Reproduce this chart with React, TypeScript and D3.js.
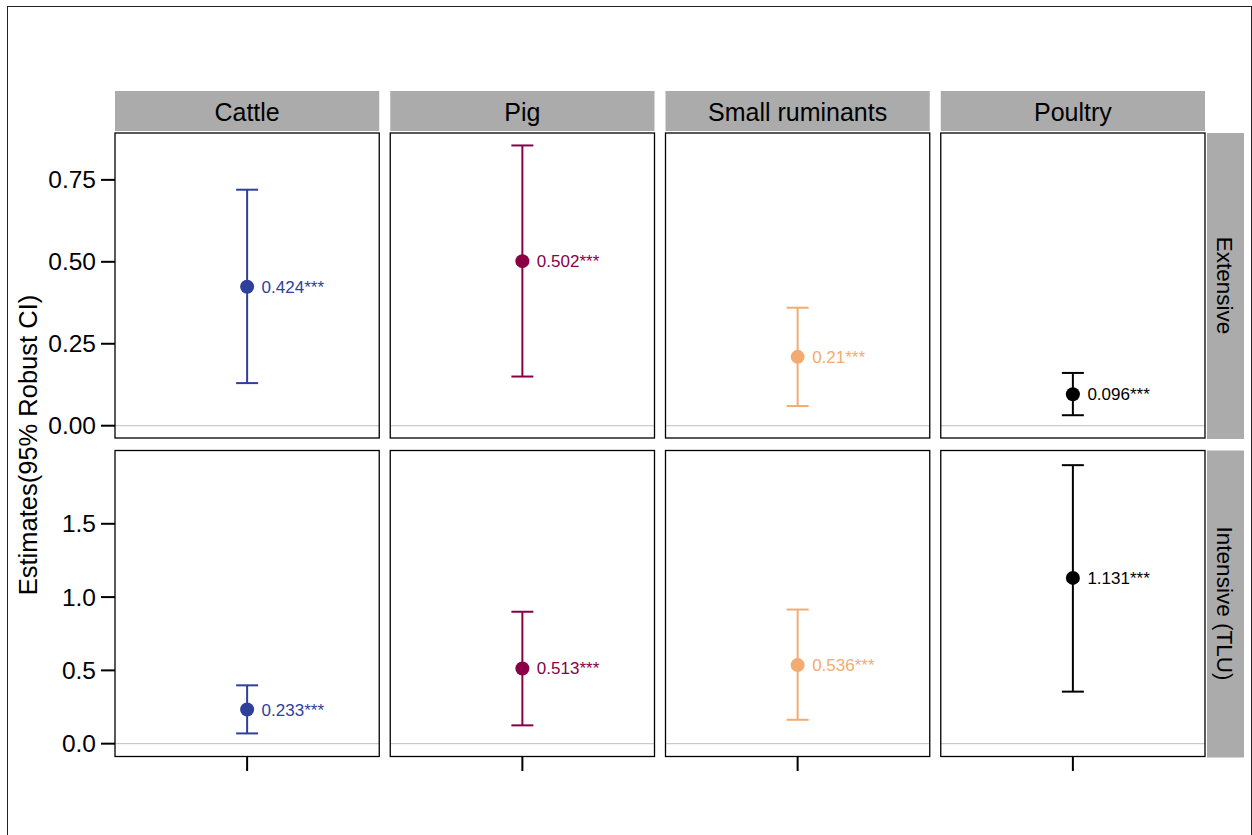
import React from 'react';
import * as d3 from 'd3';

// chart values
const species = ['Cattle', 'Pig', 'Small ruminants', 'Poultry'];
const systems = ['Extensive', 'Intensive (TLU)'];
const colors = ['#2E3F9C', '#8A0045', '#F2AC72', '#000000'];

const estExtensive = [0.424, 0.502, 0.21, 0.096];
const lowExtensive = [0.13, 0.15, 0.06, 0.032];
const highExtensive = [0.72, 0.855, 0.36, 0.161];
const labelsExtensive = ['0.424***', '0.502***', '0.21***', '0.096***'];

const estIntensive = [0.233, 0.513, 0.536, 1.131];
const lowIntensive = [0.07, 0.125, 0.163, 0.355];
const highIntensive = [0.398, 0.9, 0.915, 1.9];
const labelsIntensive = ['0.233***', '0.513***', '0.536***', '1.131***'];

const ticksExtensive = [0, 0.25, 0.5, 0.75];
const ticksIntensive = [0, 0.5, 1, 1.5];

const W = 1252;
const H = 835;
const font = '"Liberation Sans", Arial, sans-serif';

export default function App() {
	const colX = d3.scaleBand<string>()
		.domain(species)
		.range([115, 1205])
		.paddingInner(0.04);

	const rows = [
		{
			name: systems[0], top: 133, bottom: 438,
			y: d3.scaleLinear().domain([-0.0375, 0.893]).range([438, 133]),
			est: estExtensive, low: lowExtensive, high: highExtensive, labels: labelsExtensive,
			ticks: ticksExtensive, fmt: d3.format('.2f')
		},
		{
			name: systems[1], top: 450.5, bottom: 756.5,
			y: d3.scaleLinear().domain([-0.0875, 2.0]).range([756.5, 450.5]),
			est: estIntensive, low: lowIntensive, high: highIntensive, labels: labelsIntensive,
			ticks: ticksIntensive, fmt: d3.format('.1f')
		}
	];

	const bw = colX.bandwidth();

	return (
		<div style={{ position: 'fixed', left: 0, top: 0 }}>
			<svg width={W} height={H} style={{ display: 'block', fontFamily: font }}>
				<rect x={0} y={0} width={W} height={H} fill="#fff" />
				<rect x={7.5} y={6.5} width={1244} height={830} fill="none" stroke="#222" strokeWidth={1} />

				{/* column strips */}
				{species.map((s) => (
					<g key={s}>
						<rect x={colX(s)} y={91} width={bw} height={40} fill="#ABABAB" />
						<text x={colX(s)! + bw / 2} y={121} textAnchor="middle" fontSize={25} fill="#000">{s}</text>
					</g>
				))}

				{rows.map((r, ri) => (
					<g key={r.name}>
						{/* right strip */}
						<rect x={1207} y={r.top} width={37} height={r.bottom - r.top + 1} fill="#ABABAB" />
						<text
							transform={`translate(${1217},${(r.top + r.bottom) / 2}) rotate(90)`}
							textAnchor="middle" fontSize={22.5} fill="#000"
						>{r.name}</text>

						{/* y axis */}
						{r.ticks.map((t) => (
							<g key={t}>
								<line x1={101} x2={115} y1={r.y(t)} y2={r.y(t)} stroke="#000" strokeWidth={2} />
								<text x={96} y={r.y(t) + 8.5} textAnchor="end" fontSize={24.5} fill="#000">{r.fmt(t)}</text>
							</g>
						))}

						{species.map((s, i) => {
							const x0 = colX(s)!;
							const cx = x0 + bw / 2;
							const c = colors[i];
							return (
								<g key={s}>
									<rect x={x0} y={r.top} width={bw} height={r.bottom - r.top} fill="#fff" />
									<line x1={x0} x2={x0 + bw} y1={r.y(0)} y2={r.y(0)} stroke="#BEBEBE" strokeWidth={1} />
									<line x1={cx} x2={cx} y1={r.y(r.low[i])} y2={r.y(r.high[i])} stroke={c} strokeWidth={2} />
									<line x1={cx - 11} x2={cx + 11} y1={r.y(r.low[i])} y2={r.y(r.low[i])} stroke={c} strokeWidth={2} />
									<line x1={cx - 11} x2={cx + 11} y1={r.y(r.high[i])} y2={r.y(r.high[i])} stroke={c} strokeWidth={2} />
									<circle cx={cx} cy={r.y(r.est[i])} r={7} fill={c} />
									<text x={cx + 14.5} y={r.y(r.est[i]) + 6} fontSize={17} fill={c}>{r.labels[i]}</text>
									<rect x={x0} y={r.top} width={bw} height={r.bottom - r.top} fill="none" stroke="#000" strokeWidth={1.3} />
									{ri === 1 && (
										<line x1={cx} x2={cx} y1={r.bottom} y2={771} stroke="#000" strokeWidth={2} />
									)}
								</g>
							);
						})}
					</g>
				))}

				<text
					transform={`translate(${37},${445}) rotate(-90)`}
					textAnchor="middle" fontSize={25.5} fill="#000"
				>Estimates(95% Robust CI)</text>
			</svg>
		</div>
	);
}
